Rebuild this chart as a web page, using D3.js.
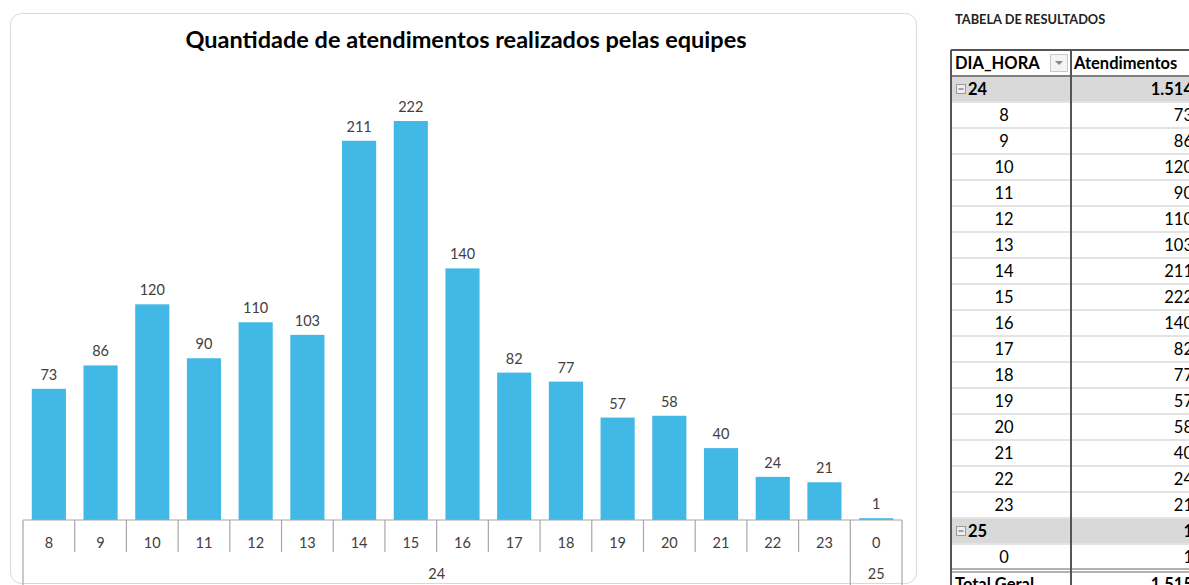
<!DOCTYPE html>
<html><head><meta charset="utf-8">
<script src="https://cdn.jsdelivr.net/npm/d3@7"></script>
<style>html,body{margin:0;padding:0;background:#fff;overflow:hidden}</style>
</head><body><svg id="c" width="1189" height="585"></svg>
<script>
const title = "Quantidade de atendimentos realizados pelas equipes";
const days = ["24","24","24","24","24","24","24","24","24","24","24","24","24","24","24","24","25"];
const hours = ["8","9","10","11","12","13","14","15","16","17","18","19","20","21","22","23","0"];
const values = [73,86,120,90,110,103,211,222,140,82,77,57,58,40,24,21,1];
const tableTitle = "TABELA DE RESULTADOS";
const tableHeaders = ["DIA_HORA","Atendimentos"];
const totalLabel = "Total Geral";

const svg = d3.select("#c");
const font = "Lato, 'Open Sans', sans-serif";
const data = hours.map((h,i)=>({i, h, d: days[i], v: values[i]}));

// chart frame
svg.append("rect").attr("x",10.5).attr("y",13.5).attr("width",906).attr("height",570)
  .attr("rx",11).attr("fill","#fff").attr("stroke","#d9d9d9").attr("stroke-width",1);

svg.append("text").attr("x",466).attr("y",48).attr("text-anchor","middle")
  .attr("font-family",font).attr("font-weight","bold").attr("font-size",23.5).attr("fill","#000")
  .text(title);

const x0 = 23, x1 = 902, baseY = 520;
const x = d3.scaleBand().domain(data.map(d=>d.i)).range([x0,x1]).paddingInner(0.34).paddingOuter(0.17);
const y = d3.scaleLinear().domain([0,222]).range([baseY,121]);
const step = x.step();

svg.append("g").selectAll("rect").data(data).join("rect")
  .attr("x",d=>x(d.i)).attr("width",x.bandwidth())
  .attr("y",d=>y(d.v)).attr("height",d=>Math.max(baseY-y(d.v),1.5))
  .attr("fill","#41b8e6");

svg.append("g").selectAll("text").data(data).join("text")
  .attr("x",d=>x(d.i)+x.bandwidth()/2).attr("y",d=>Math.min(y(d.v),baseY-2)-9)
  .attr("text-anchor","middle").attr("font-family",font).attr("font-size",14.5).attr("fill","#404040")
  .text(d=>d.v);

// axis
const ax = svg.append("g").attr("stroke","#a6a6a6").attr("stroke-width",1.2);
ax.append("line").attr("x1",x0).attr("x2",x1).attr("y1",baseY).attr("y2",baseY);
const bounds = d3.range(data.length+1);
ax.selectAll("line.b").data(bounds).join("line").attr("class","b")
  .attr("x1",i=>x0+i*step).attr("x2",i=>x0+i*step).attr("y1",baseY)
  .attr("y2",i=> (i===0||i===data.length||days[i]!==days[i-1]) ? 590 : 552);

svg.append("g").selectAll("text").data(data).join("text")
  .attr("x",d=>x0+(d.i+0.5)*step).attr("y",548).attr("text-anchor","middle")
  .attr("font-family",font).attr("font-size",14.5).attr("fill","#404040").text(d=>d.h);

const groups = d3.groups(data, d=>d.d).map(([k,arr])=>({k, a: arr[0].i, b: arr[arr.length-1].i+1}));
svg.append("g").selectAll("text").data(groups).join("text")
  .attr("x",g=>x0+(g.a+g.b)/2*step).attr("y",579).attr("text-anchor","middle")
  .attr("font-family",font).attr("font-size",14.5).attr("fill","#404040").text(g=>g.k);

// table
const fmt = d3.formatLocale({decimal:",",thousands:".",grouping:[3],currency:["R$",""]}).format(",d");
svg.append("text").attr("x",955).attr("y",24).attr("font-family",font).attr("font-weight","bold")
  .attr("font-size",12.8).attr("fill","#222").text(tableTitle);

const rows = [];
groups.forEach(g=>{
  const arr = data.filter(d=>d.d===g.k);
  rows.push({type:"group", label:g.k, v:d3.sum(arr,d=>d.v)});
  arr.forEach(d=>rows.push({type:"item", label:d.h, v:d.v}));
});
rows.push({type:"total", label: totalLabel, v: d3.sum(values)});

const tL = 951, tM = 1071, tR = 1195, rowH = 26, tTop = 50;
const tg = svg.append("g").attr("font-family",font).attr("font-size",16.5);
rows.forEach((r,k)=>{
  const ry = tTop + rowH*(k+1);
  if (r.type==="group") tg.append("rect").attr("x",tL).attr("y",ry+1).attr("width",tR-tL).attr("height",rowH-2).attr("fill","#d9d9d9");
  if (k>0 && r.type!=="total") tg.append("line").attr("x1",tL).attr("x2",tR).attr("y1",ry).attr("y2",ry).attr("stroke","#e3e3e3").attr("stroke-width",2);
  const cy = ry + rowH/2 + 6;
  if (r.type==="group") {
    tg.append("rect").attr("x",956.5).attr("y",ry+8.5).attr("width",9).attr("height",9).attr("fill","#eee").attr("stroke","#999");
    tg.append("line").attr("x1",958.5).attr("x2",963.5).attr("y1",ry+13).attr("y2",ry+13).attr("stroke","#555");
    tg.append("text").attr("x",968).attr("y",cy).attr("font-weight","bold").attr("fill","#000").text(r.label);
    tg.append("text").attr("x",tR-2).attr("y",cy).attr("text-anchor","end").attr("font-weight","bold").attr("fill","#000").text(fmt(r.v));
  } else if (r.type==="item") {
    tg.append("text").attr("x",1004).attr("y",cy).attr("text-anchor","middle").attr("fill","#000").text(r.label);
    tg.append("text").attr("x",tR-2).attr("y",cy).attr("text-anchor","end").attr("fill","#000").text(fmt(r.v));
  } else {
    tg.append("line").attr("x1",tL).attr("x2",tR).attr("y1",ry-1).attr("y2",ry-1).attr("stroke","#666").attr("stroke-width",1);
    tg.append("line").attr("x1",tL).attr("x2",tR).attr("y1",ry+2).attr("y2",ry+2).attr("stroke","#666").attr("stroke-width",1);
    tg.append("text").attr("x",955).attr("y",cy+1).attr("font-weight","bold").attr("fill","#000").text(r.label);
    tg.append("text").attr("x",tR-2).attr("y",cy+1).attr("text-anchor","end").attr("font-weight","bold").attr("fill","#000").text(fmt(r.v));
  }
});
// header
tg.append("text").attr("x",955).attr("y",tTop+19).attr("font-weight","bold").attr("fill","#000").text(tableHeaders[0]);
tg.append("text").attr("x",1074).attr("y",tTop+19).attr("font-weight","bold").attr("fill","#000").text(tableHeaders[1]);
tg.append("rect").attr("x",1050.5).attr("y",tTop+4.5).attr("width",17).attr("height",17).attr("fill","#f4f4f4").attr("stroke","#c8c8c8");
tg.append("path").attr("d",`M1055,${tTop+11} L1063,${tTop+11} L1059,${tTop+15} Z`).attr("fill","#888");
tg.append("line").attr("x1",tL).attr("x2",tR).attr("y1",tTop).attr("y2",tTop).attr("stroke","#555").attr("stroke-width",2);
tg.append("line").attr("x1",tL).attr("x2",tR).attr("y1",tTop+rowH).attr("y2",tTop+rowH).attr("stroke","#555").attr("stroke-width",1.5);
tg.append("line").attr("x1",tL).attr("x2",tL).attr("y1",tTop).attr("y2",600).attr("stroke","#555").attr("stroke-width",2);
tg.append("line").attr("x1",tM).attr("x2",tM).attr("y1",tTop).attr("y2",600).attr("stroke","#555").attr("stroke-width",2);
</script></body></html>
